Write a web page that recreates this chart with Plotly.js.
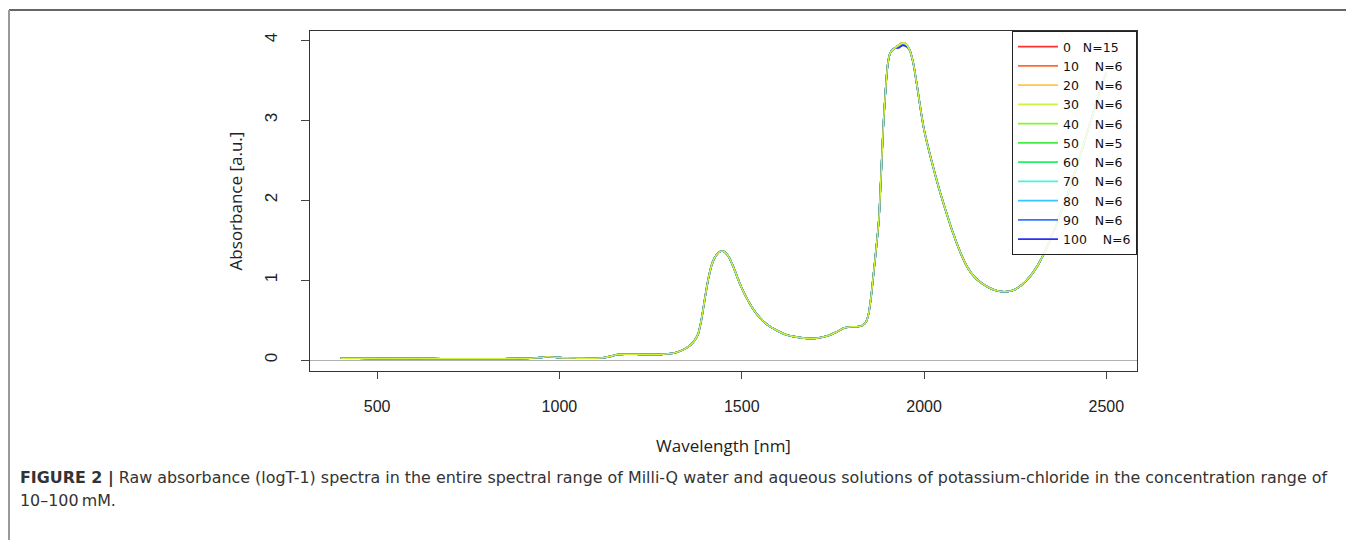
<!DOCTYPE html>
<html>
<head>
<meta charset="utf-8">
<script src="https://cdn.plot.ly/plotly-3.0.1.min.js"></script>
<style>html,body{margin:0;padding:0;background:#fff;}#chart{width:1346px;height:540px;}</style>
</head>
<body>
<div id="chart"></div>
<script>
// Wavelength grid [nm]
const wavelength = [400,450,500,550,600,650,700,750,800,850,900,920,940,960,970,980,1000,1020,1050,1080,1100,1120,1140,1150,1160,1180,1200,1220,1250,1280,1300,1320,1340,1360,1370,1380,1390,1400,1410,1420,1430,1440,1450,1460,1470,1480,1490,1500,1520,1540,1560,1580,1600,1620,1640,1660,1680,1700,1720,1740,1760,1770,1780,1790,1800,1810,1820,1830,1840,1848,1855,1862,1870,1876,1882,1888,1895,1900,1905,1910,1920,1930,1940,1950,1960,1970,1980,1990,2000,2020,2040,2060,2080,2100,2120,2140,2160,2180,2200,2220,2240,2260,2280,2300,2320,2340,2360,2380,2400,2420,2440,2460,2480,2500];
// Mean absorbance spectrum (shared shape of all series)
const absorbance = [0.022,0.021,0.020,0.019,0.018,0.017,0.016,0.015,0.015,0.016,0.020,0.022,0.028,0.038,0.040,0.037,0.030,0.026,0.024,0.022,0.022,0.028,0.045,0.058,0.068,0.072,0.072,0.070,0.068,0.070,0.078,0.095,0.130,0.190,0.240,0.320,0.520,0.800,1.050,1.220,1.310,1.355,1.360,1.320,1.240,1.130,1.010,0.900,0.720,0.580,0.480,0.410,0.360,0.320,0.295,0.280,0.270,0.270,0.285,0.310,0.350,0.375,0.400,0.410,0.415,0.415,0.418,0.430,0.470,0.580,0.800,1.100,1.450,1.750,2.300,2.900,3.410,3.680,3.810,3.860,3.900,3.930,3.960,3.950,3.880,3.720,3.450,3.150,2.880,2.500,2.160,1.860,1.580,1.340,1.150,1.030,0.955,0.900,0.866,0.853,0.865,0.910,0.990,1.100,1.250,1.440,1.660,1.900,2.160,2.440,2.730,3.030,3.330,3.600];

// Series (KCl concentration in mM, number of replicates)
const concentration = [0,10,20,30,40,50,60,70,80,90,100];
const replicates = [15,6,6,6,6,5,6,6,6,6,6];
const colors = ['#FF3030','#FF6A30','#FFC844','#CCF53A','#88F530','#44EE44','#22EE66','#44F5D8','#33C8FF','#3377FF','#2E2EF5'];
// Slight per-series differences at the top of the 1940 nm band
const peak1930 = [3.935,3.935,3.930,3.930,3.930,3.925,3.925,3.920,3.915,3.910,3.900];
const peak1940 = [3.965,3.965,3.962,3.960,3.958,3.955,3.952,3.948,3.945,3.940,3.930];
const peak1950 = [3.955,3.955,3.952,3.950,3.948,3.945,3.942,3.938,3.935,3.930,3.920];

const i1930 = wavelength.indexOf(1930), i1940 = wavelength.indexOf(1940), i1950 = wavelength.indexOf(1950);
const drawOrder = [0,1,2,4,5,6,7,8,9,10,3];
const traces = drawOrder.map(function(k){
  const y = absorbance.slice();
  y[i1930] = peak1930[k]; y[i1940] = peak1940[k]; y[i1950] = peak1950[k];
  const sp = concentration[k] === 0 ? '\u00a0\u00a0\u00a0' : '\u00a0\u00a0\u00a0\u00a0';
  return {
    x: wavelength, y: y, type: 'scatter', mode: 'lines',
    name: concentration[k] + sp + 'N=' + replicates[k],
    legendrank: k + 1,
    line: {color: colors[k], width: 1.6, shape: 'spline', smoothing: 0.8}
  };
});

// plot area: left 310, right 1137, top 31, bottom 371
const L = 310, R = 1137, T = 31, B = 371;
const px = v => (v - L) / (R - L);
const py = v => (B - v) / (B - T);

const layout = {
  width: 1346, height: 540,
  margin: {l: L, r: 1346 - R, t: T, b: 540 - B},
  paper_bgcolor: '#fff', plot_bgcolor: '#fff',
  showlegend: true,
  font: {family: 'Liberation Sans, Arial, sans-serif', color: '#222'},
  xaxis: {
    range: [316, 2584], tickvals: [500,1000,1500,2000,2500], ticktext: ['500','1000','1500','2000','2500'],
    ticks: 'outside', ticklen: 7, tickwidth: 1, tickcolor: '#444',
    showline: true, mirror: true, linecolor: '#333', linewidth: 1,
    showgrid: false, zeroline: false,
    tickfont: {family: 'Liberation Sans, Arial, sans-serif', size: 16, color: '#222'},
    ticklabelstandoff: 14,
    title: {text: 'Wavelength [nm]', font: {family: 'Open Sans, sans-serif', size: 17, color: '#222'}, standoff: 25}
  },
  yaxis: {
    range: [-0.1375, 4.1125], tickvals: [0,1,2,3,4], ticktext: ['0','1','2','3','4'],
    ticks: 'outside', ticklen: 8, tickwidth: 1, tickcolor: '#444', tickangle: -90,
    showline: true, mirror: true, linecolor: '#333', linewidth: 1,
    showgrid: false, zeroline: true, zerolinecolor: '#b0b0b0', zerolinewidth: 1,
    tickfont: {family: 'Liberation Sans, Arial, sans-serif', size: 17, color: '#222'},
    ticklabelstandoff: 17,
    title: {text: 'Absorbance [a.u.]', font: {family: 'Open Sans, sans-serif', size: 17, color: '#222'}, standoff: 15}
  },
  legend: {
    x: 1, y: 1, xanchor: 'right', yanchor: 'top',
    bgcolor: 'rgba(255,255,255,0.85)', bordercolor: '#222', borderwidth: 1,
    font: {family: 'DejaVu Sans, sans-serif', size: 12.5, color: '#111'},
    itemwidth: 40, traceorder: 'normal'
  },
  shapes: [
    {type: 'line', xref: 'paper', yref: 'paper', x0: px(9), x1: px(1346), y0: py(10), y1: py(10), line: {color: '#666', width: 2}},
    {type: 'line', xref: 'paper', yref: 'paper', x0: px(9), x1: px(9), y0: py(10), y1: py(540), line: {color: '#999', width: 2}}
  ],
  annotations: [
    {xref: 'paper', yref: 'paper', x: px(18), y: py(478), xanchor: 'left', yanchor: 'middle', showarrow: false, align: 'left',
     text: '<b>FIGURE 2 |</b> Raw absorbance (logT-1) spectra in the entire spectral range of Milli-Q water and aqueous solutions of potassium-chloride in the concentration range of',
     font: {family: 'DejaVu Sans, sans-serif', size: 15.9, color: '#333'}},
    {xref: 'paper', yref: 'paper', x: px(18), y: py(500), xanchor: 'left', yanchor: 'middle', showarrow: false, align: 'left',
     text: '10\u2013100\u2009mM.',
     font: {family: 'DejaVu Sans, sans-serif', size: 15.9, color: '#333'}}
  ]
};

Plotly.newPlot('chart', traces, layout, {displayModeBar: false, staticPlot: true});
</script>
</body>
</html>
